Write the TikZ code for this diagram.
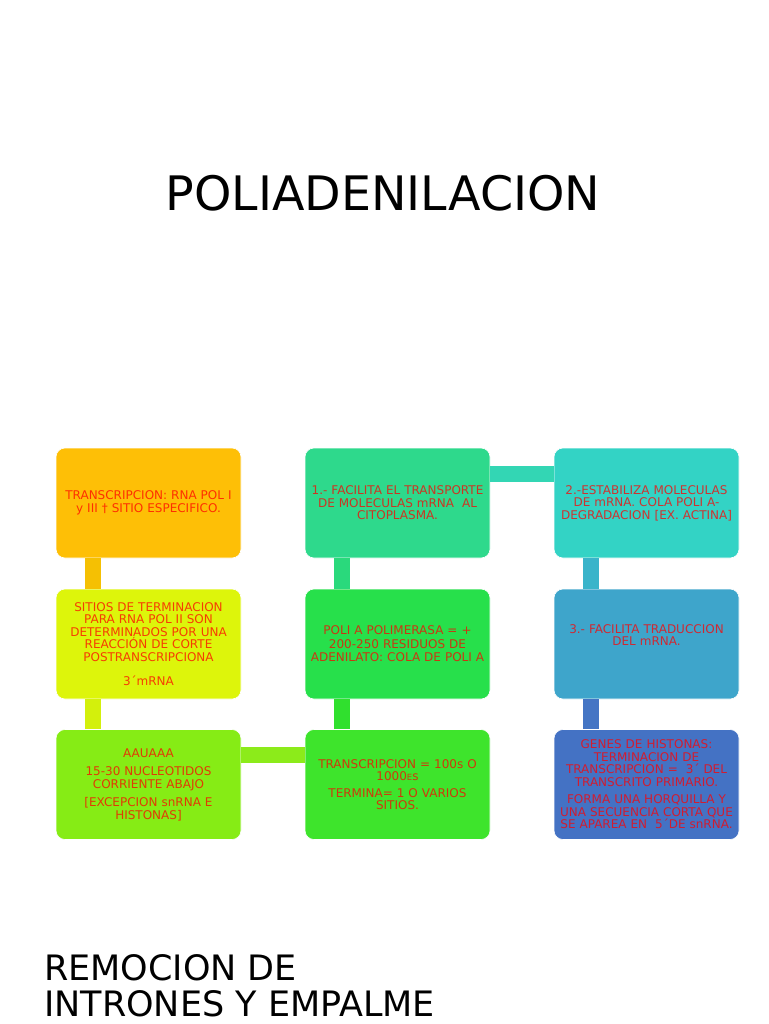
\documentclass[tikz,border=0pt]{standalone}
\usepackage{fontspec}
\setmainfont{DejaVu Sans}
\usetikzlibrary{calc}
\definecolor{c11}{HTML}{FEBF06}
\definecolor{c21}{HTML}{DDF50B}
\definecolor{c31}{HTML}{86EC15}
\definecolor{c32}{HTML}{3EE42C}
\definecolor{c22}{HTML}{27E04B}
\definecolor{c12}{HTML}{2ED98C}
\definecolor{c13}{HTML}{33D3C5}
\definecolor{c23}{HTML}{3EA5CB}
\definecolor{c33}{HTML}{4472C4}
\definecolor{k1}{HTML}{F5C003}
\definecolor{k2}{HTML}{D3F00C}
\definecolor{k3}{HTML}{8CEB1A}
\definecolor{k4}{HTML}{30E02E}
\definecolor{k5}{HTML}{2AD97C}
\definecolor{k6}{HTML}{33D6B4}
\definecolor{k7}{HTML}{3AB4CA}
\definecolor{k8}{HTML}{4575C4}
\tikzset{
  box/.style={rounded corners=9pt, minimum width=185pt, minimum height=110pt,
    text width=183pt, align=center, inner sep=1pt, draw=white, line width=0.6pt,
    text=red, text opacity=0.75,
    font=\fontsize{12}{12.5}\selectfont},
  conn/.style={line width=16pt, line cap=butt},
}
\begin{document}
\begin{tikzpicture}[x=1pt,y=-1pt]
\fill[white] (0,0) rectangle (768,1024);
\path[use as bounding box] (0,0) rectangle (768,1024);

\node[anchor=base, inner sep=0, font=\fontsize{47.5}{56}\selectfont] (title) at (383,211) {POLIADENILACION};

\node[box, fill=c11] (b11) at (148.5,503) {TRANSCRIPCION: RNA POL I\\[1pt] y III † SITIO ESPECIFICO.};
\node[box, fill=c21] (b21) at (148.5,644) {SITIOS DE TERMINACION\\ PARA RNA POL II SON\\ DETERMINADOS POR UNA\\ REACCIÓN DE CORTE\\ POSTRANSCRIPCIONA\\[12pt] 3´mRNA};
\node[box, fill=c31] (b31) at (148.5,784.5) {AAUAAA\\[6pt] 15-30 NUCLEOTIDOS\\ CORRIENTE ABAJO\\[6pt] {[}EXCEPCION snRNA E\\ HISTONAS{]}};

\node[box, fill=c12] (b12) at (397.5,503) {1.- FACILITA EL TRANSPORTE\\ DE MOLECULAS mRNA~ AL\\ CITOPLASMA.};
\node[box, fill=c22] (b22) at (397.5,644) {POLI A POLIMERASA = +\\[1pt] 200-250 RESIDUOS DE\\[1pt] ADENILATO: COLA DE POLI A};
\node[box, fill=c32] (b32) at (397.5,784.5) {TRANSCRIPCION = 100s O\\ 1000{\fontsize{8.5}{9}\selectfont E}s\\[4pt] TERMINA= 1 O VARIOS\\ SITIOS.};

\node[box, fill=c13] (b13) at (646.5,503) {2.-ESTABILIZA MOLECULAS\\ DE mRNA. COLA POLI A-\\ DEGRADACION {[}EX. ACTINA{]}};
\node[box, fill=c23] (b23) at (646.5,644) {3.- FACILITA TRADUCCION\\ DEL mRNA.\\[5pt]\mbox{}};
\node[box, fill=c33] (b33) at (646.5,784.5) {GENES DE HISTONAS:\\ TERMINACION DE\\ TRANSCRIPCION = ~3´ DEL\\ TRANSCRITO PRIMARIO.\\[5pt] FORMA UNA HORQUILLA Y\\ UNA SECUENCIA CORTA QUE\\ SE APAREA EN ~5´DE snRNA.};

\draw[conn, draw=k1] ($(b11.south west)+(37,0)$) -- ($(b21.north west)+(37,0)$);
\draw[conn, draw=k2] ($(b21.south west)+(37,0)$) -- ($(b31.north west)+(37,0)$);
\draw[conn, draw=k3] ($(b31.north east)+(0,26)$) -- ($(b32.north west)+(0,26)$);
\draw[conn, draw=k4] ($(b32.north west)+(37,0)$) -- ($(b22.south west)+(37,0)$);
\draw[conn, draw=k5] ($(b22.north west)+(37,0)$) -- ($(b12.south west)+(37,0)$);
\draw[conn, draw=k6] ($(b12.north east)+(0,26)$) -- ($(b13.north west)+(0,26)$);
\draw[conn, draw=k7] ($(b13.south west)+(37,0)$) -- ($(b23.north west)+(37,0)$);
\draw[conn, draw=k8] ($(b23.south west)+(37,0)$) -- ($(b33.north west)+(37,0)$);

\node[anchor=north west, inner sep=0, align=left, font=\fontsize{35}{36.5}\selectfont] (sub) at (44,954) {REMOCION DE\\ INTRONES Y EMPALME};
\end{tikzpicture}
\end{document}
